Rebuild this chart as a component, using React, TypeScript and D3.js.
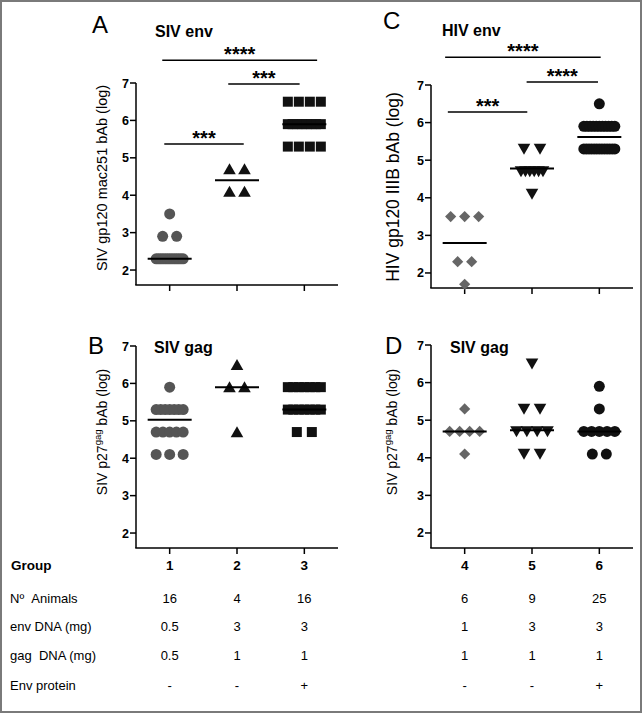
import React from 'react';
import * as d3 from 'd3';

// ---------- DATA ----------
const leftGroups = ['1', '2', '3'];
const rightGroups = ['4', '5', '6'];
const yTickValues = [2, 3, 4, 5, 6, 7];
const yDomain = [1.6, 7];

// Panel A – SIV env (SIV gp120 mac251 bAb, log)
const sivEnvG1 = [3.5, 2.9, 2.9, 2.3, 2.3, 2.3, 2.3, 2.3, 2.3, 2.3, 2.3, 2.3, 2.3, 2.3, 2.3, 2.3];
const sivEnvG2 = [4.7, 4.7, 4.1, 4.1];
const sivEnvG3 = [6.5, 6.5, 6.5, 6.5, 5.9, 5.9, 5.9, 5.9, 5.9, 5.9, 5.9, 5.9, 5.3, 5.3, 5.3, 5.3];
const sivEnvCenters = [2.3, 4.4, 5.9];

// Panel B – SIV gag (groups 1-3)
const sivGagG1 = [5.9, 5.3, 5.3, 5.3, 5.3, 5.3, 5.3, 5.3, 4.7, 4.7, 4.7, 4.7, 4.7, 4.1, 4.1, 4.1];
const sivGagG2 = [6.5, 5.9, 5.9, 4.7];
const sivGagG3 = [5.9, 5.9, 5.9, 5.9, 5.9, 5.9, 5.9, 5.3, 5.3, 5.3, 5.3, 5.3, 5.3, 5.3, 4.7, 4.7];
const sivGagLeftCenters = [5.03, 5.9, 5.3];

// Panel C – HIV env (HIV gp120 IIIB bAb, log)
const hivEnvG4 = [3.5, 3.5, 3.5, 2.3, 2.3, 1.7];
const hivEnvG5 = [5.3, 5.3, 4.7, 4.7, 4.7, 4.7, 4.7, 4.7, 4.1];
const hivEnvG6 = [6.5, 5.9, 5.9, 5.9, 5.9, 5.9, 5.9, 5.9, 5.9, 5.9, 5.9, 5.9,
  5.3, 5.3, 5.3, 5.3, 5.3, 5.3, 5.3, 5.3, 5.3, 5.3, 5.3, 5.3, 5.3];
const hivEnvCenters = [2.8, 4.78, 5.62];

// Panel D – SIV gag (groups 4-6)
const sivGagG4 = [5.3, 4.7, 4.7, 4.7, 4.7, 4.1];
const sivGagG5 = [6.5, 5.3, 5.3, 4.7, 4.7, 4.7, 4.7, 4.1, 4.1];
const sivGagG6 = [5.9, 5.3, 4.7, 4.7, 4.7, 4.7, 4.7, 4.1, 4.1];
const sivGagRightCenters = [4.7, 4.73, 4.7];

// Significance brackets (from / to in group-index units, y in log units)
const sivEnvBrackets = [
  { from: -0.11, to: 2.19, y: 7.61, label: '****' },
  { from: 0.87, to: 1.93, y: 6.97, label: '***' },
  { from: -0.08, to: 1.1, y: 5.37, label: '***' },
];
const hivEnvBrackets = [
  { from: -0.29, to: 2.02, y: 7.74, label: '****' },
  { from: 0.92, to: 1.98, y: 7.08, label: '****' },
  { from: -0.25, to: 0.93, y: 6.28, label: '***' },
];

// Table
const tableRowLabels = ['N\u00BA\u00A0\u00A0Animals', 'env DNA (mg)', 'gag\u00A0\u00A0DNA (mg)', 'Env protein'];
const animalsRow = ['16', '4', '16', '6', '9', '25'];
const envDnaRow = ['0.5', '3', '3', '1', '3', '3'];
const gagDnaRow = ['0.5', '1', '1', '1', '1', '1'];
const envProteinRow = ['-', '-', '+', '-', '-', '+'];

// ---------- STYLE ----------
const FONT = 'Liberation Sans, Arial, Helvetica, sans-serif';
const GRAY_CIRCLE = '#555555';
const GRAY_DIAMOND = '#666666';
const DARK = '#111111';

type Shape = 'circle' | 'square' | 'triUp' | 'triDown' | 'diamond';
interface GroupStyle { shape: Shape; color: string; step: number; span: number; }

const shapePath: Record<Shape, string> = {
  circle: 'M5.5,0A5.5,5.5,0,1,1,-5.5,0A5.5,5.5,0,1,1,5.5,0Z',
  square: 'M-5,-5H5V5H-5Z',
  triUp: 'M0,-5.8L6.3,5.2L-6.3,5.2Z',
  triDown: 'M0,5.8L6.3,-5.2L-6.3,-5.2Z',
  diamond: 'M0,-5.6L5.6,0L0,5.6L-5.6,0Z',
};

const leftStyles: GroupStyle[] = [
  { shape: 'circle', color: GRAY_CIRCLE, step: 14, span: 27 },
  { shape: 'triUp', color: DARK, step: 15, span: 30 },
  { shape: 'square', color: DARK, step: 15, span: 33 },
];
const rightStylesC: GroupStyle[] = [
  { shape: 'diamond', color: GRAY_DIAMOND, step: 14, span: 30 },
  { shape: 'triDown', color: DARK, step: 16, span: 22 },
  { shape: 'circle', color: DARK, step: 14, span: 31 },
];
const rightStylesD: GroupStyle[] = [
  { shape: 'diamond', color: GRAY_DIAMOND, step: 14, span: 30 },
  { shape: 'triDown', color: DARK, step: 16, span: 31 },
  { shape: 'circle', color: DARK, step: 14, span: 31 },
];

interface PanelSpec {
  letter: string; letterX: number; letterY: number;
  title: string; titleX: number; titleY: number;
  x0: number; x1: number; yTop: number; yBottom: number;
  groups: string[]; data: number[][]; centers: number[]; styles: GroupStyle[];
  yLabel: React.ReactNode; yLabelX: number; yLabelY: number; yLabelSize: number;
  showXLabels: boolean;
  brackets: { from: number; to: number; y: number; label: string }[];
}

function layoutGroup(values: number[], step: number, span: number) {
  const counts = d3.rollups(values, (v) => v.length, (d) => d);
  const out: { v: number; dx: number }[] = [];
  counts.forEach(([v, n]) => {
    const sp = n > 1 ? Math.min(step, span / (n - 1)) : 0;
    for (let i = 0; i < n; i++) out.push({ v, dx: (i - (n - 1) / 2) * sp });
  });
  return out;
}

const gagLabel = (
  <>
    SIV p27<tspan dy={-5} fontSize={9.5}>gag</tspan>
    <tspan dy={5}> bAb (log)</tspan>
  </>
);

const panels: PanelSpec[] = [
  {
    letter: 'A', letterX: 92, letterY: 33, title: 'SIV env', titleX: 155, titleY: 37,
    x0: 136, x1: 338, yTop: 83, yBottom: 285,
    groups: leftGroups, data: [sivEnvG1, sivEnvG2, sivEnvG3], centers: sivEnvCenters, styles: leftStyles,
    yLabel: 'SIV gp120 mac251 bAb (log)', yLabelX: 103, yLabelY: 178, yLabelSize: 14.5,
    showXLabels: false, brackets: sivEnvBrackets,
  },
  {
    letter: 'B', letterX: 88, letterY: 354, title: 'SIV gag', titleX: 154, titleY: 353,
    x0: 136, x1: 338, yTop: 346, yBottom: 548,
    groups: leftGroups, data: [sivGagG1, sivGagG2, sivGagG3], centers: sivGagLeftCenters, styles: leftStyles,
    yLabel: gagLabel, yLabelX: 103, yLabelY: 432, yLabelSize: 14,
    showXLabels: true, brackets: [],
  },
  {
    letter: 'C', letterX: 383, letterY: 29, title: 'HIV env', titleX: 442, titleY: 36,
    x0: 431, x1: 633, yTop: 85, yBottom: 288,
    groups: rightGroups, data: [hivEnvG4, hivEnvG5, hivEnvG6], centers: hivEnvCenters, styles: rightStylesC,
    yLabel: 'HIV gp120 IIIB bAb (log)', yLabelX: 394, yLabelY: 187, yLabelSize: 17.5,
    showXLabels: false, brackets: hivEnvBrackets,
  },
  {
    letter: 'D', letterX: 385, letterY: 354, title: 'SIV gag', titleX: 450, titleY: 353,
    x0: 431, x1: 633, yTop: 345, yBottom: 548,
    groups: rightGroups, data: [sivGagG4, sivGagG5, sivGagG6], centers: sivGagRightCenters, styles: rightStylesD,
    yLabel: gagLabel, yLabelX: 393, yLabelY: 432, yLabelSize: 14,
    showXLabels: true, brackets: [],
  },
];

function Panel({ p }: { p: PanelSpec }) {
  const x = d3.scalePoint<string>().domain(p.groups).range([p.x0, p.x1]).padding(0.5);
  const xi = d3.scaleLinear().domain([-0.5, p.groups.length - 0.5]).range([p.x0, p.x1]);
  const y = d3.scaleLinear().domain(yDomain).range([p.yBottom, p.yTop]);
  return (
    <g fontFamily={FONT}>
      <text x={p.letterX} y={p.letterY} fontSize={24}>{p.letter}</text>
      <text x={p.titleX} y={p.titleY} fontSize={16} fontWeight="bold">{p.title}</text>
      <text
        transform={`translate(${p.yLabelX},${p.yLabelY}) rotate(-90)`}
        textAnchor="middle" dominantBaseline="middle" fontSize={p.yLabelSize}
      >{p.yLabel}</text>
      {/* axes */}
      <line x1={p.x0} x2={p.x0} y1={y(7)} y2={p.yBottom} stroke="#000" strokeWidth={1.5} />
      <line x1={p.x0 - 0.75} x2={p.x1} y1={p.yBottom} y2={p.yBottom} stroke="#000" strokeWidth={1.5} />
      {yTickValues.map((t) => (
        <g key={t}>
          <line x1={p.x0 - 6} x2={p.x0} y1={y(t)} y2={y(t)} stroke="#000" strokeWidth={1.5} />
          <text x={p.x0 - 7} y={y(t)} dy="0.36em" textAnchor="end" fontSize={12.5} fontWeight="bold">{t}</text>
        </g>
      ))}
      {p.groups.map((g) => (
        <g key={g}>
          <line x1={x(g)!} x2={x(g)!} y1={p.yBottom} y2={p.yBottom + 6} stroke="#000" strokeWidth={1.5} />
          {p.showXLabels && (
            <text x={x(g)!} y={570} textAnchor="middle" fontSize={13.5} fontWeight="bold">{g}</text>
          )}
        </g>
      ))}
      {/* points */}
      {p.data.map((vals, gi) => {
        const st = p.styles[gi];
        const cx = x(p.groups[gi])!;
        return (
          <g key={gi}>
            {layoutGroup(vals, st.step, st.span).map((pt, i) => (
              <path key={i} d={shapePath[st.shape]} transform={`translate(${cx + pt.dx},${y(pt.v)})`} fill={st.color} />
            ))}
            <line x1={cx - 22} x2={cx + 22} y1={y(p.centers[gi])} y2={y(p.centers[gi])} stroke="#000" strokeWidth={2} />
          </g>
        );
      })}
      {/* brackets */}
      {p.brackets.map((b, i) => (
        <g key={i}>
          <line x1={xi(b.from)} x2={xi(b.to)} y1={y(b.y)} y2={y(b.y)} stroke="#000" strokeWidth={1.5} />
          <text x={(xi(b.from) + xi(b.to)) / 2} y={y(b.y) + 1} textAnchor="middle" fontSize={20} fontWeight="bold">{b.label}</text>
        </g>
      ))}
    </g>
  );
}

export default function App() {
  const colX = d3.scalePoint<string>().domain(leftGroups).range([136, 338]).padding(0.5);
  const colXR = d3.scalePoint<string>().domain(rightGroups).range([431, 633]).padding(0.5);
  const colPositions = [...leftGroups.map((g) => colX(g)!), ...rightGroups.map((g) => colXR(g)!)];
  const rows = [animalsRow, envDnaRow, gagDnaRow, envProteinRow];
  const rowY = [603, 631, 660, 690];
  return (
    <svg width={642} height={713} style={{ position: 'absolute', left: 0, top: 0, background: '#fff' }}>
      <rect x={1} y={1} width={640} height={711} fill="#fff" stroke="#7a7a7a" strokeWidth={2} />
      {panels.map((p) => <Panel key={p.letter} p={p} />)}
      <g fontFamily={FONT}>
        <text x={11} y={570} fontSize={13.5} fontWeight="bold">Group</text>
        {tableRowLabels.map((lab, ri) => (
          <g key={lab}>
            <text x={10} y={rowY[ri]} fontSize={13}>{lab}</text>
            {rows[ri].map((v, ci) => (
              <text key={ci} x={colPositions[ci]} y={rowY[ri]} textAnchor="middle" fontSize={13}>{v}</text>
            ))}
          </g>
        ))}
      </g>
    </svg>
  );
}
